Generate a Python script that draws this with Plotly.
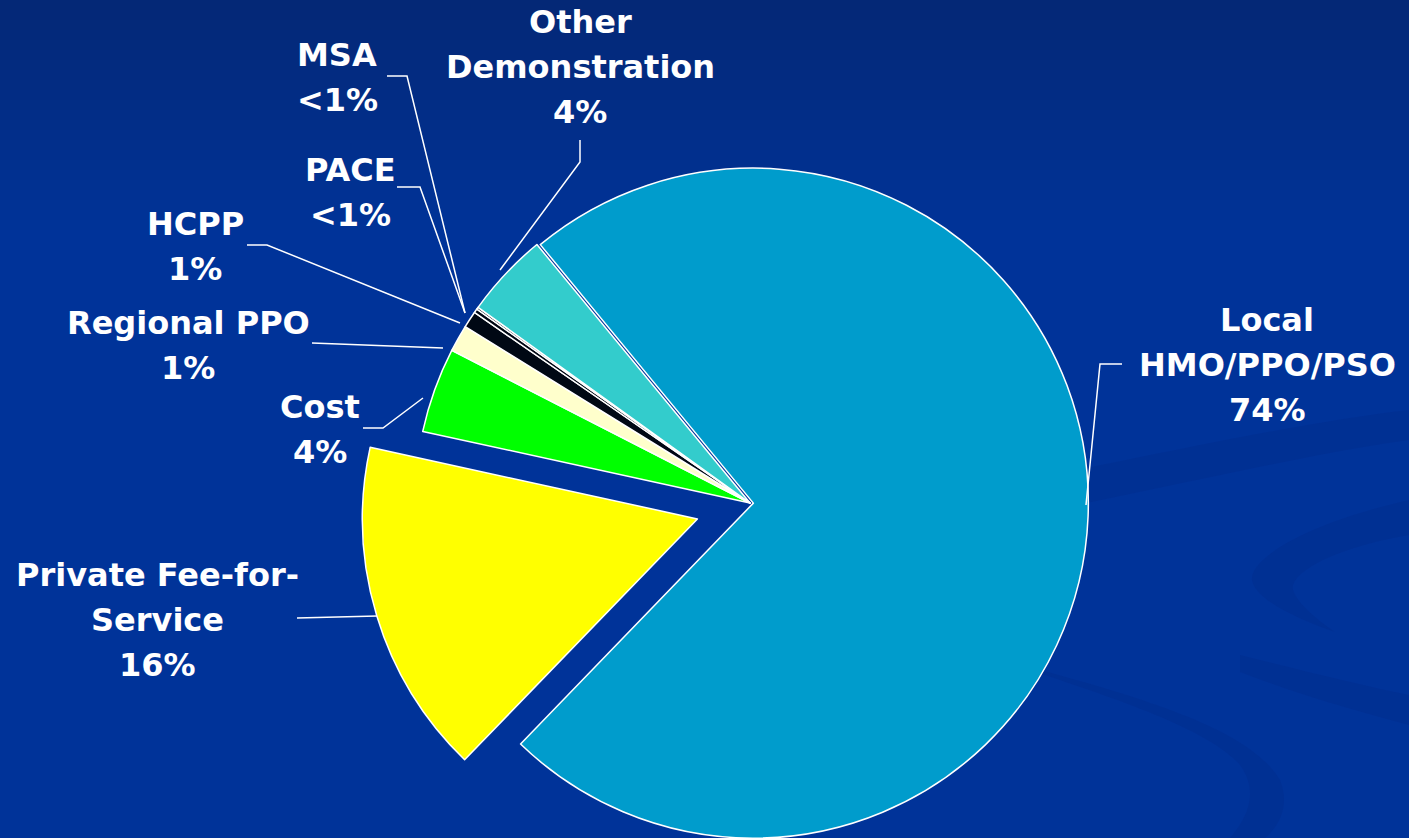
import plotly.graph_objects as go

# share of enrollment by plan type (clockwise from the top-left edge)
plan_names = ["Local HMO/PPO/PSO", "Private Fee-for-Service", "Cost", "Regional PPO",
              "HCPP", "PACE", "MSA", "Other Demonstration"]
plan_shares = [73.2, 16.2, 4.1, 1.3, 0.8, 0.2, 0.1, 4.1]
share_labels = ["74%", "16%", "4%", "1%", "1%", "<1%", "<1%", "4%"]
name_lines = [["Local", "HMO/PPO/PSO"], ["Private Fee-for-", "Service"], ["Cost"],
              ["Regional PPO"], ["HCPP"], ["PACE"], ["MSA"], ["Other", "Demonstration"]]

slice_colors = ["#009ccc", "#ffff00", "#00ff00", "#ffffcc", "#000814", "#000814", "#000814", "#33cccc"]
pulls = [0.01, 0.164, 0, 0, 0, 0, 0, 0]

W, H = 1409, 900
def fx(x):
    return x / W
def fy(y):
    return 1 - y / H

# pie centre (750, 503) px, radius 335 px, box grows with max pull
cx, cy, r = 750, 503, 335
half = r * (1 + max(pulls))

fig = go.Figure(go.Pie(
    labels=plan_names,
    values=plan_shares,
    sort=False,
    direction="clockwise",
    rotation=320.5,
    pull=pulls,
    textinfo="none",
    hoverinfo="label+percent",
    marker=dict(colors=slice_colors, line=dict(color="white", width=1.5)),
    domain=dict(x=[fx(cx - half), fx(cx + half)], y=[fy(cy + half), fy(cy - half)]),
    showlegend=False,
))

shapes = []
# background gradient, dark navy at the top
top = (4, 40, 118)
base = (0, 51, 153)
steps = 24
for i in range(steps):
    t = i / (steps - 1)
    c = tuple(round(top[k] + (base[k] - top[k]) * t) for k in range(3))
    y0 = i * 10
    shapes.append(dict(type="rect", xref="paper", yref="paper", layer="below",
                       x0=0, x1=1, y0=fy(y0 + 10 if i < steps - 1 else H), y1=fy(y0),
                       fillcolor="rgb(%d,%d,%d)" % c, line=dict(width=0)))

# faint swooshes in the lower right
def path(pts):
    s = ""
    for cmd, coords in pts:
        s += cmd + " " + " ".join("%.5f,%.5f" % (fx(a), fy(b)) for a, b in coords) + " "
    return s + "Z"

swoosh = "rgba(0,40,130,0.25)"
swooshes = [
    [("M", [(1077, 470)]), ("C", [(1200, 445), (1320, 420), (1409, 410)]),
     ("L", [(1409, 440)]), ("C", [(1320, 452), (1200, 480), (1077, 505)])],
    [("M", [(1409, 500)]), ("C", [(1300, 525), (1250, 560), (1252, 580)]),
     ("C", [(1255, 600), (1300, 620), (1335, 632)]),
     ("C", [(1310, 615), (1290, 595), (1293, 585)]), ("C", [(1300, 565), (1350, 545), (1409, 535)])],
    [("M", [(1240, 655)]), ("C", [(1300, 670), (1360, 685), (1409, 695)]),
     ("L", [(1409, 725)]), ("C", [(1360, 712), (1300, 695), (1240, 672)])],
    [("M", [(1030, 667)]), ("C", [(1150, 700), (1250, 730), (1280, 780)]),
     ("C", [(1290, 805), (1280, 825), (1265, 838)]), ("L", [(1230, 838)]),
     ("C", [(1250, 815), (1258, 790), (1240, 765)]), ("C", [(1210, 730), (1120, 700), (1030, 670)])],
]
for p in swooshes:
    shapes.append(dict(type="path", xref="paper", yref="paper", layer="below",
                       path=path(p), fillcolor=swoosh, line=dict(width=0)))

# leader lines, one per label
leaders = [
    [(1122, 364), (1100, 364), (1086, 505)],
    [(297, 618), (377, 616)],
    [(363, 428), (383, 428), (423, 398)],
    [(312, 343), (443, 348)],
    [(247, 245), (267, 245), (460, 323)],
    [(397, 187), (420, 187), (465, 313)],
    [(387, 76), (407, 76), (465, 313)],
    [(580, 140), (580, 162), (500, 270)],
]
for pts in leaders:
    d = "M " + " L ".join("%.5f,%.5f" % (fx(a), fy(b)) for a, b in pts)
    shapes.append(dict(type="path", xref="paper", yref="paper", layer="above",
                       path=d, line=dict(color="white", width=1.5)))

# label block positions (centre x, first line y)
label_pos = [(1267, 320), (157, 575), (320, 407), (188, 323),
             (195, 224), (350, 170), (337, 55), (580, 22)]
line_gap = 45

annotations = []
for lines, pct, (lx, ly) in zip(name_lines, share_labels, label_pos):
    for j, txt in enumerate(lines + [pct]):
        annotations.append(dict(xref="paper", yref="paper", x=fx(lx), y=fy(ly + j * line_gap),
                                xanchor="center", yanchor="middle", showarrow=False, text=txt,
                                font=dict(family="DejaVu Sans", size=32, color="white", weight="bold")))

fig.update_layout(
    width=W, height=H,
    margin=dict(l=0, r=0, t=0, b=0),
    paper_bgcolor="#003399",
    plot_bgcolor="#003399",
    shapes=shapes,
    annotations=annotations,
)

fig.write_html("out.html", config={"displayModeBar": False},
               post_script="document.body.style.margin='0';document.body.style.overflow='hidden';")
